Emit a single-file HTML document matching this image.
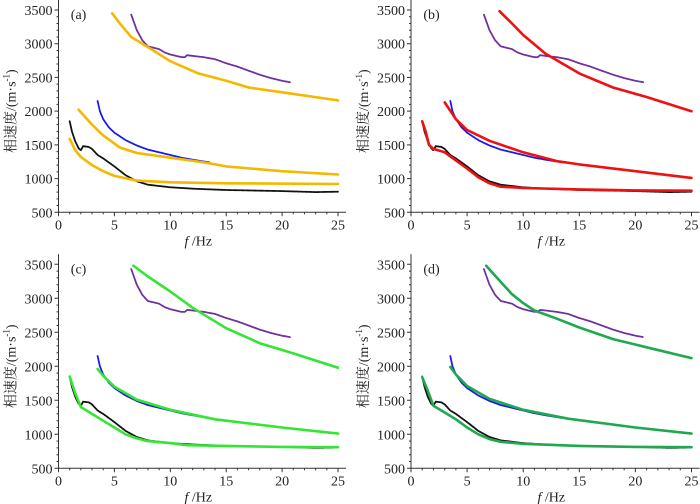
<!DOCTYPE html>
<html><head><meta charset="utf-8"><style>
body{margin:0;background:#fff}
svg{display:block}
svg text{font-family:'Liberation Serif','Times New Roman','Noto Serif CJK SC',serif;fill:#222}
</style></head><body>
<svg id="c" width="700" height="504" viewBox="0 0 700 504" xmlns="http://www.w3.org/2000/svg"></svg>
<script>
const xTicks=[0,5,10,15,20,25];
const yTicks=[500,1000,1500,2000,2500,3000,3500];
const panelLabels=["(a)","(b)","(c)","(d)"];
const obsBlackF=[1.0,1.2,1.5,1.8,2.0,2.2,2.7,3.0,3.5,4,5,6,7,8,10,12,15,20,23,25];
const obsBlackV=[1850,1700,1550,1450,1420,1480,1470,1440,1350,1300,1180,1050,960,910,870,850,830,815,800,805];
const obsBlueF=[3.5,3.7,4,4.5,5,6,7,8,9,10,11,12,13.5];
const obsBlueV=[2150,2000,1880,1760,1680,1570,1490,1430,1390,1350,1310,1280,1240];
const obsPurpleF=[6.5,7,7.5,8,9,9.5,10,11,11.3,11.5,12,13,14,14.5,15,16,17,18,19,20,20.7];
const obsPurpleV=[3430,3200,3050,2960,2920,2870,2840,2800,2800,2830,2820,2800,2770,2740,2710,2660,2600,2540,2490,2450,2430];
const aTopF=[4.8,5.5,6.5,8,10,12.5,15,17,20,25], aTopV=[3450,3300,3100,2950,2740,2560,2450,2350,2280,2160];
const aMidF=[1.8,3,4,5.5,7,10,13,15,20,25], aMidV=[2020,1800,1640,1460,1380,1310,1240,1180,1110,1060];
const aLowF=[1,1.5,2,3,4,5,7,10,15,25], aLowV=[1590,1420,1320,1200,1110,1040,970,945,930,920];
const bTopF=[7.9,9,10,12,15,18,21,25], bTopV=[3480,3300,3130,2850,2560,2350,2210,2000];
const bMidF=[3,4,5,7,10,13,15,20,25], bMidV=[2130,1880,1720,1560,1390,1260,1210,1110,1010];
const bLowF=[1,1.3,1.6,2,3,4,5,6,7,8,10,15,20,25], bLowV=[1850,1700,1500,1440,1390,1270,1150,1020,930,880,860,840,825,820];
const cTopF=[6.7,8,10,12,15,18,21,25], cTopV=[3480,3320,3100,2860,2560,2340,2190,1980];
const cMidF=[3.5,4,5,7,10,14,20,25], cMidV=[1960,1860,1700,1510,1360,1220,1100,1010];
const cLowF=[1,1.5,2,3,4,5,6,7,8,10,11.5,15,20,25], cLowV=[1850,1600,1400,1300,1200,1100,1000,940,900,870,840,830,815,810];
const dTopF=[6.7,8,9,10,11,13,15,18,21,25], dTopV=[3480,3240,3060,2930,2820,2700,2570,2400,2280,2120];
const dMidF=[3.5,4,5,7,10,14,20,25], dMidV=[1990,1880,1710,1520,1360,1230,1100,1010];
const dLowF=[1,1.5,2,3,4,5,6,7,8,10,15,20,25], dLowV=[1840,1640,1420,1320,1220,1100,1000,930,890,860,830,815,810];

const NS="http://www.w3.org/2000/svg";
const FF="Liberation Serif, Times New Roman, Noto Serif CJK SC, serif";
const svg=document.getElementById('c');
const panels=[
 {x0:58.5,x25:338,y500:212.3,y3500:10,col:"#f5b800",m:[[aTopF,aTopV],[aMidF,aMidV],[aLowF,aLowV]]},
 {x0:411,x25:691.5,y500:212.3,y3500:10,col:"#ee1111",m:[[bTopF,bTopV],[bMidF,bMidV],[bLowF,bLowV]]},
 {x0:58.5,x25:338,y500:468.3,y3500:264.3,col:"#33e633",m:[[cTopF,cTopV],[cMidF,cMidV],[cLowF,cLowV]]},
 {x0:411,x25:691.5,y500:468.3,y3500:264.3,col:"#1fa84f",m:[[dTopF,dTopV],[dMidF,dMidV],[dLowF,dLowV]]}
];
function mk(t,a,p){const e=document.createElementNS(NS,t);for(const k in a)e.setAttribute(k,a[k]);if(t==='text')e.setAttribute('font-family',FF);(p||svg).appendChild(e);return e;}
panels.forEach((P,i)=>{
 const g=mk('g',{});
 
 
 const X=f=>P.x0+(P.x25-P.x0)*f/25;
 const Y=v=>P.y500+(P.y3500-P.y500)*(v-500)/3000;
 const ax=mk('path',{d:`M${X(0)} ${Y(3500)-10}V${Y(500)}H${X(25)+8}`,stroke:"#333",fill:"none","stroke-width":1},g);
 
 
 let tk="";
 for(let f=0;f<=25;f++){const L=f%5==0?4:2;tk+=`M${X(f)} ${Y(500)}v${L}`;}
 for(let v=500;v<=3500;v+=100){const L=v%500==0?4:2;tk+=`M${X(0)} ${Y(v)}h${-L}`;}
 mk('path',{d:tk,stroke:"#333","stroke-width":1},g);
 xTicks.forEach(f=>{const t=mk('text',{x:X(f),y:Y(500)+17,"font-size":14,"text-anchor":"middle"},g);t.textContent=f;
  });
 yTicks.forEach(v=>{const t=mk('text',{x:X(0)-6,y:Y(v)+5,"font-size":14,"text-anchor":"end"},g);t.textContent=v;
  });
 const xl=mk('text',{x:X(12.5),y:Y(500)+33,"font-size":14,"text-anchor":"middle"},g);
 xl.innerHTML='<tspan font-style="italic">f</tspan> /Hz';
 
 const yc=(Y(500)+Y(3500))/2, xx=X(0)-43;
 const yl=mk('text',{x:xx,y:yc,"font-size":14,"text-anchor":"middle",transform:`rotate(-90 ${xx} ${yc})`},g);
 yl.innerHTML='相速度/(m·s<tspan font-size="9" dy="-6">-1</tspan><tspan dy="6">)</tspan>';
 
 const pl=mk('text',{x:X(1.1),y:Y(3500)+9,"font-size":14},g);pl.textContent=panelLabels[i];
 
 const line=(F,V,c,w,dash,name)=>{const d=F.map((f,j)=>(j?'L':'M')+X(f).toFixed(1)+' '+Y(V[j]).toFixed(1)).join('');
  const p=mk('path',{d,stroke:c,"stroke-width":w,fill:"none","stroke-linejoin":"round","stroke-linecap":"round"},g);
  if(dash)p.setAttribute('stroke-dasharray',dash);
  };
 line(obsBlackF,obsBlackV,"#111",1.8,"1.2 0.8","observed-fundamental");
 line(obsBlueF,obsBlueV,"#1a1aee",1.8,"1.2 0.8","observed-first-higher");
 line(obsPurpleF,obsPurpleV,"#7030a0",1.8,"1.2 0.8","observed-second-higher");
 P.m.forEach((m,k)=>line(m[0],m[1],P.col,2.6,null,'model-curve-'+k));
});
</script>
</body></html>
